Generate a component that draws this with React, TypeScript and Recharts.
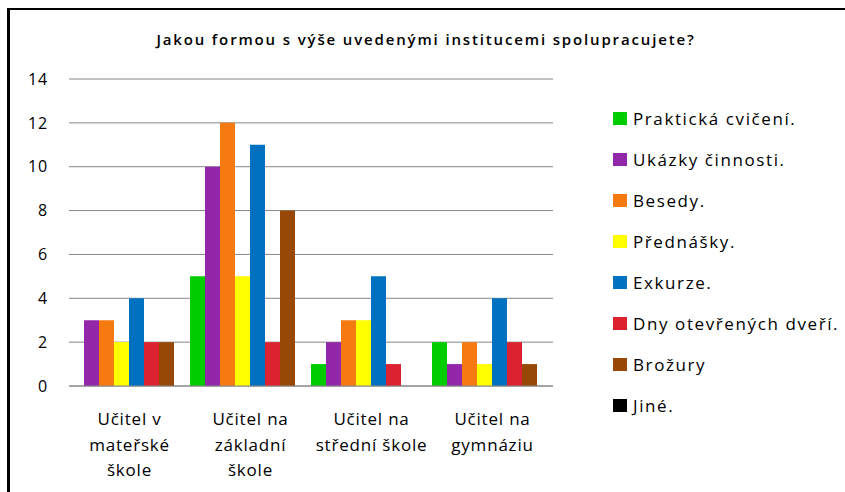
import React from "react";
import { BarChart, Bar, XAxis, YAxis, CartesianGrid, Legend } from "recharts";

const categories = [
  "Učitel v mateřské škole",
  "Učitel na základní škole",
  "Učitel na střední škole",
  "Učitel na gymnáziu",
];
const categoryLines = [
  ["Učitel v", "mateřské", "škole"],
  ["Učitel na", "základní", "škole"],
  ["Učitel na", "střední škole"],
  ["Učitel na", "gymnáziu"],
];

const seriesNames = [
  "Praktická cvičení.",
  "Ukázky činnosti.",
  "Besedy.",
  "Přednášky.",
  "Exkurze.",
  "Dny otevřených dveří.",
  "Brožury",
  "Jiné.",
];
const seriesColors = [
  "#00CC00",
  "#9327A9",
  "#F57A10",
  "#FFFF00",
  "#0070C0",
  "#DC2130",
  "#974806",
  "#000000",
];

const praktickaCviceni = [0, 5, 1, 2];
const ukazkyCinnosti = [3, 10, 2, 1];
const besedy = [3, 12, 3, 2];
const prednasky = [2, 5, 3, 1];
const exkurze = [4, 11, 5, 4];
const dnyOtevrenychDveri = [2, 2, 1, 2];
const brozury = [2, 8, 0, 1];
const jine = [0, 0, 0, 0];

const seriesValues = [
  praktickaCviceni,
  ukazkyCinnosti,
  besedy,
  prednasky,
  exkurze,
  dnyOtevrenychDveri,
  brozury,
  jine,
];

const yTicks = [0, 2, 4, 6, 8, 10, 12, 14];

const title = "Jakou formou s výše uvedenými institucemi spolupracujete?";

const data = categories.map((c, i) => {
  const row: Record<string, any> = { name: c, idx: i };
  seriesNames.forEach((s, k) => {
    row["s" + k] = seriesValues[k][i];
  });
  return row;
});

const FONT = "'Open Sans', sans-serif";

const CategoryTick = (props: any) => {
  const { x, y, payload } = props;
  const lines = categoryLines[payload.index] || [String(payload.value)];
  return (
    <text
      x={x}
      y={y}
      textAnchor="middle"
      fill="#000"
      fontFamily={FONT}
      fontSize={17}
      letterSpacing={0.8}
    >
      {lines.map((l: string, i: number) => (
        <tspan key={i} x={x} y={y + 31 + i * 25.5}>
          {l}
        </tspan>
      ))}
    </text>
  );
};

const LegendContent = (props: any) => {
  const payload = [...(props.payload || [])].sort(
    (a: any, b: any) => seriesNames.indexOf(a.value) - seriesNames.indexOf(b.value)
  );
  return (
    <div style={{ fontFamily: FONT, fontSize: 17, letterSpacing: 1.6, color: "#000" }}>
      {payload.map((p: any, i: number) => (
        <div
          key={i}
          style={{ height: 41, display: "flex", alignItems: "center", whiteSpace: "nowrap" }}
        >
          <span
            style={{
              display: "inline-block",
              width: 14,
              height: 13,
              background: p.color,
              marginRight: 6,
            }}
          />
          <span>{p.value}</span>
        </div>
      ))}
    </div>
  );
};

export default function App() {
  return (
    <div
      style={{
        position: "absolute",
        left: 0,
        top: 0,
        width: 845,
        height: 492,
        background: "#fff",
        overflow: "hidden",
      }}
    >
      <div
        style={{
          position: "absolute",
          left: 7,
          top: 8,
          width: 860,
          height: 500,
          borderLeft: "3px solid #000",
          borderTop: "2px solid #000",
        }}
      />
      <div
        style={{
          position: "absolute",
          left: 0,
          top: 29,
          width: 852,
          textAlign: "center",
          fontFamily: FONT,
          fontWeight: 600,
          fontSize: 15,
          letterSpacing: 1.85,
          color: "#000",
        }}
      >
        {title}
      </div>
      <div style={{ position: "absolute", left: 0, top: 0 }}>
        <BarChart
          width={845}
          height={492}
          data={data}
          margin={{ top: 79, right: 292, bottom: 6, left: 0 }}
          barCategoryGap={0}
          barGap={0}
        >
          <CartesianGrid vertical={false} stroke="#868686" strokeWidth={1} />
          <XAxis
            dataKey="name"
            height={100}
            axisLine={{ stroke: "#868686" }}
            tickLine={false}
            interval={0}
            tick={<CategoryTick />}
          />
          <YAxis
            width={69}
            domain={[0, 14]}
            ticks={yTicks}
            axisLine={false}
            tickLine={false}
            tickMargin={15}
            tick={{ fill: "#000", fontFamily: FONT, fontSize: 16, letterSpacing: 0.8 }}
          />
          <Legend
            layout="horizontal"
            verticalAlign="middle"
            align="center"
            wrapperStyle={{ left: 613, top: 98, width: 230 }}
            content={<LegendContent />}
          />
          {seriesNames.map((s, k) => (
            <Bar
              key={s}
              dataKey={"s" + k}
              name={s}
              fill={seriesColors[k]}
              isAnimationActive={false}
            />
          ))}
        </BarChart>
      </div>
    </div>
  );
}
